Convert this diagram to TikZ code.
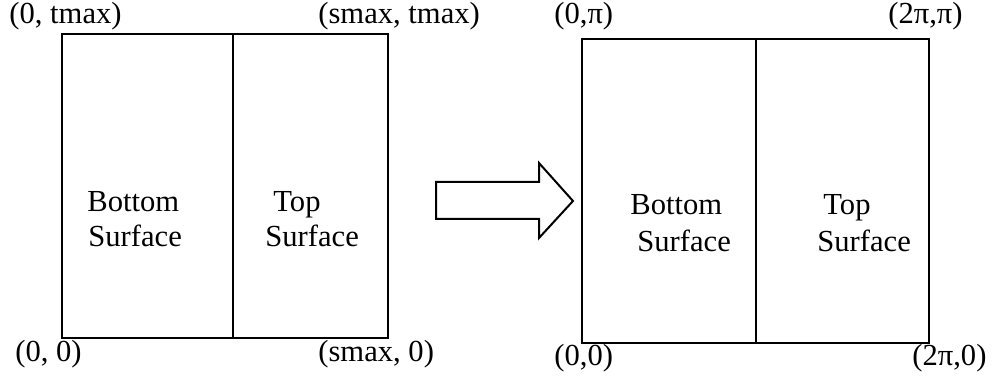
\documentclass[tikz,border=0pt]{standalone}
\usepackage{fontspec}
\setmainfont{Liberation Serif}
\begin{document}
\begin{tikzpicture}[x=0.5pt,y=-0.5pt,
  box/.style={line width=1pt},
  lbl/.style={anchor=base west,inner sep=0pt,font=\fontsize{15.3}{18}\selectfont},
  arr/.style={line width=1pt,line join=miter}]
\useasboundingbox (0,0) rectangle (992,378);
% left panel
\draw[box] (62,34) rectangle (388,338);
\draw[box] (233,34) -- (233,338);
% right panel
\draw[box] (582,39) rectangle (929,343);
\draw[box] (756,39) -- (756,343);
% block arrow
\draw[arr] (436,182) -- (539,182) -- (539,163) -- (573,201) -- (539,238) -- (539,219) -- (436,219) -- cycle;
% corner labels
\node[lbl] (l00) at (15,362) {(0, 0)};
\node[lbl] (l0t) at (9,24) {(0, tmax)};
\node[lbl] (lst) at (318,24) {(smax, tmax)};
\node[lbl] (ls0) at (318,362) {(smax, 0)};
\node[lbl] (r0p) at (554,24) {(0,π)};
\node[lbl] (r2p) at (888,24) {(2π,π)};
\node[lbl] (r00) at (554,366) {(0,0)};
\node[lbl] (r20) at (912,366) {(2π,0)};
% surface labels
\node[lbl] (lb1) at (87,212) {Bottom};
\node[lbl] (lb2) at (88,247) {Surface};
\node[lbl] (lt1) at (273,212) {Top};
\node[lbl] (lt2) at (265,247) {Surface};
\node[lbl] (rb1) at (630,215) {Bottom};
\node[lbl] (rb2) at (637,252) {Surface};
\node[lbl] (rt1) at (823,215) {Top};
\node[lbl] (rt2) at (817,252) {Surface};
\end{tikzpicture}
\end{document}
